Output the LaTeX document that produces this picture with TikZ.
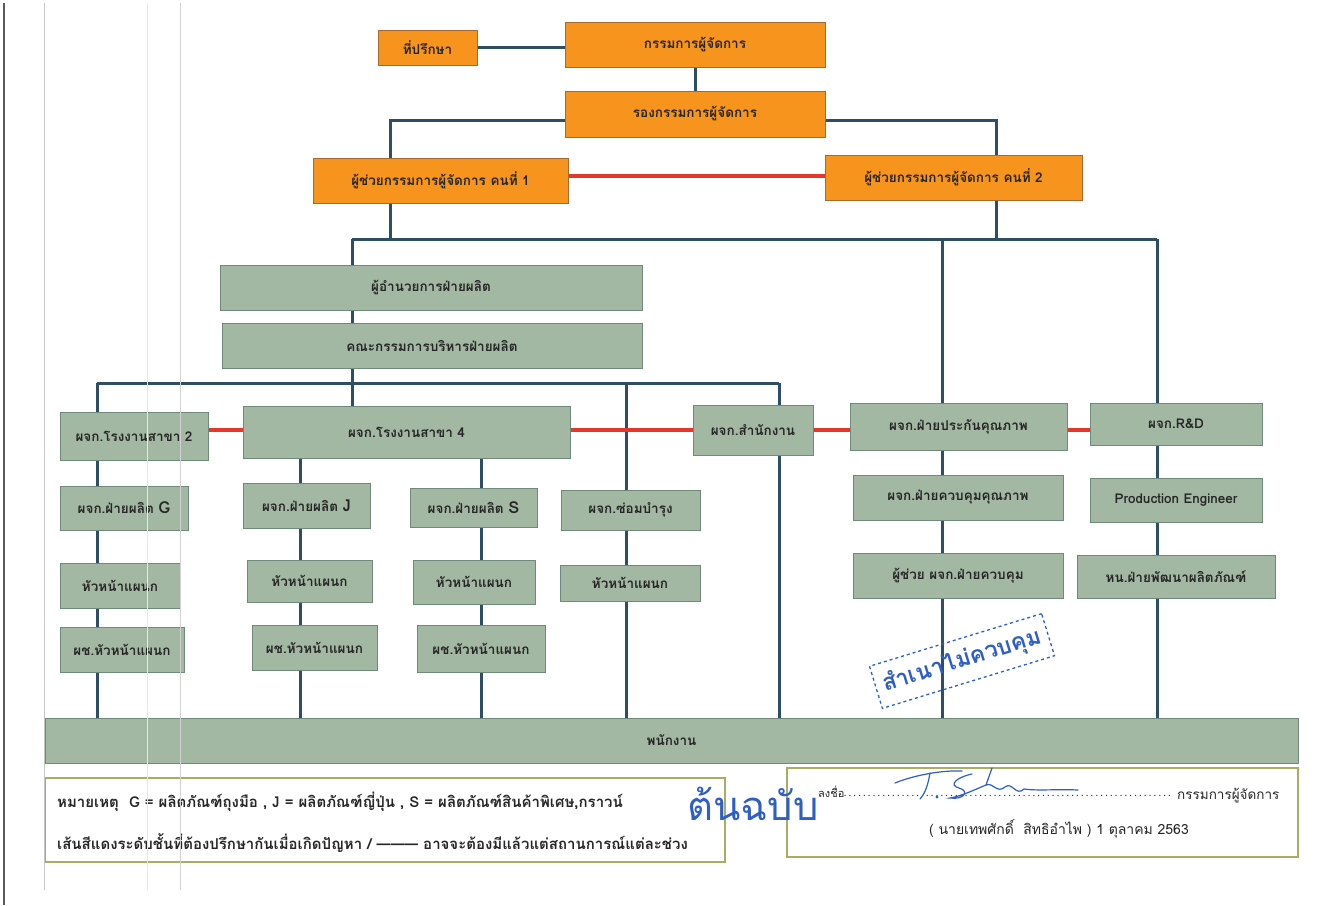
\documentclass[tikz,border=0pt]{standalone}
\usepackage{fontspec}
\setmainfont[Script=Thai]{Loma}
\usetikzlibrary{backgrounds}
\definecolor{org}{HTML}{F7941D}
\definecolor{obd}{HTML}{A86A30}
\definecolor{grn}{HTML}{A3B8A2}
\definecolor{gbd}{HTML}{6F8A7A}
\definecolor{txt}{HTML}{262626}
\definecolor{lnb}{HTML}{2E4E66}
\definecolor{redc}{HTML}{E2392C}
\definecolor{stampc}{HTML}{2F5FC4}
\definecolor{olv}{HTML}{A9AD62}
\newcommand\fs{\fontsize{13.5}{15}\selectfont\bfseries}
\newcommand\bigltr{\fontsize{16.5}{17}\selectfont}
\newcommand\bx[7]{\node[#1, minimum width=#5pt, minimum height=#6pt] (#2) at (#3,#4) {#7};}
\begin{document}
\begin{tikzpicture}[x=1pt,y=-1pt,
  obox/.style={draw=obd, line width=0.8pt, fill=org, text=txt, font=\fs, inner sep=0pt},
  gbox/.style={draw=gbd, line width=0.8pt, fill=grn, text=txt, font=\fs, inner sep=0pt},
  conn/.style={draw=lnb, line width=3pt},
  redl/.style={draw=redc, line width=4pt},
  frame/.style={draw=olv, line width=1.3pt},
  note/.style={text=txt, font=\fontsize{15}{17}\selectfont\bfseries, inner sep=0pt, anchor=west},
  sig/.style={draw=stampc, line width=1.2pt, line cap=round}]
\useasboundingbox (0,0) rectangle (1325,905);
% orange boxes
\bx{obox}{adv}{427.5}{47.5}{99}{35}{ที่ปรึกษา}
\bx{obox}{md}{695}{44.5}{260}{45}{กรรมการผู้จัดการ}
\bx{obox}{vmd}{695}{114}{260}{46}{รองกรรมการผู้จัดการ}
\bx{obox}{as1}{440.5}{180.5}{255}{45}{ผู้ช่วยกรรมการผู้จัดการ คนที่ 1}
\bx{obox}{as2}{953.5}{177.5}{257}{45}{ผู้ช่วยกรรมการผู้จัดการ คนที่ 2}
% green boxes
\bx{gbox}{dir}{431}{287.5}{422}{45}{ผู้อำนวยการฝ่ายผลิต}
\bx{gbox}{com}{432}{345.5}{420}{45}{คณะกรรมการบริหารฝ่ายผลิต}
\bx{gbox}{b2}{134}{436}{148}{48}{ผจก.โรงงานสาขา 2}
\bx{gbox}{b4}{406.5}{432}{327}{52}{ผจก.โรงงานสาขา 4}
\bx{gbox}{off}{753}{430}{120}{50}{ผจก.สำนักงาน}
\bx{gbox}{qa}{958.5}{426.5}{217}{47}{ผจก.ฝ่ายประกันคุณภาพ}
\bx{gbox}{rd}{1176}{424}{172}{42}{ผจก.R\&D}
\bx{gbox}{g1}{124}{508}{128}{44}{ผจก.ฝ่ายผลิต {\bigltr G}}
\bx{gbox}{g2}{120}{585.5}{120}{45}{หัวหน้าแผนก}
\bx{gbox}{g3}{122}{649.5}{124}{45}{ผช.หัวหน้าแผนก}
\bx{gbox}{j1}{306.5}{505.5}{127}{45}{ผจก.ฝ่ายผลิต {\bigltr J}}
\bx{gbox}{j2}{309.5}{581}{125}{42}{หัวหน้าแผนก}
\bx{gbox}{j3}{314.5}{647.5}{125}{45}{ผช.หัวหน้าแผนก}
\bx{gbox}{s1}{473.5}{507.5}{127}{39}{ผจก.ฝ่ายผลิต {\bigltr S}}
\bx{gbox}{s2}{474}{582}{122}{44}{หัวหน้าแผนก}
\bx{gbox}{s3}{481}{648.5}{128}{47}{ผช.หัวหน้าแผนก}
\bx{gbox}{m1}{630.5}{510}{139}{40}{ผจก.ซ่อมบำรุง}
\bx{gbox}{m2}{630}{583}{140}{36}{หัวหน้าแผนก}
\bx{gbox}{q1}{958}{497.5}{210}{45}{ผจก.ฝ่ายควบคุมคุณภาพ}
\bx{gbox}{q2}{958}{575.5}{210}{45}{ผู้ช่วย ผจก.ฝ่ายควบคุม}
\bx{gbox}{r1}{1176}{500}{172}{44}{Production Engineer}
\bx{gbox}{r2}{1176}{576.5}{198}{43}{หน.ฝ่ายพัฒนาผลิตภัณฑ์}
\bx{gbox}{staff}{671.5}{740.5}{1253}{45}{พนักงาน}
% junction coordinates
\coordinate (cL) at (390,120);
\coordinate (cR) at (996,120);
\coordinate (hA) at (352,239);
\coordinate (hB) at (1157,239);
\coordinate (hQ) at (942,239);
\coordinate (hL) at (390,239);
\coordinate (hR) at (996,239);
\coordinate (pA) at (97,383);
\coordinate (pB) at (779,383);
\coordinate (pC) at (352,383);
\coordinate (pM) at (626,383);
\coordinate (ry) at (0,430);
\coordinate (ry2) at (0,176);
\begin{scope}[on background layer]
\fill[white] (0,0) rectangle (1325,905);
\draw[conn] (adv.east) -- (md.west |- adv.east);
\draw[conn] (md.south) -- (vmd.north);
\draw[conn] (vmd.west |- cL) -- (cL) -- (as1.north -| cL);
\draw[conn] (vmd.east |- cR) -- (cR) -- (as2.north -| cR);
\draw[conn] (as1.south -| hL) -- (hL);
\draw[conn] (as2.south -| hR) -- (hR);
\draw[conn] (hA) -- (hB);
\draw[conn] (hA) -- (dir.north -| hA);
\draw[conn] (hQ) -- (qa.north -| hQ);
\draw[conn] (hB) -- (rd.north -| hB);
\draw[conn] (dir.south -| hA) -- (com.north -| hA);
\draw[conn] (com.south -| pC) -- (pC);
\draw[conn] (pA) -- (pB);
\draw[conn] (pA) -- (b2.north -| pA);
\draw[conn] (pC) -- (b4.north -| pC);
\draw[conn] (pM) -- (staff.north -| pM);
\draw[conn] (pB) -- (staff.north -| pB);
\draw[conn] (b2.south -| pA) -- (staff.north -| pA);
\draw[conn] (b4.south -| 300,0) -- (staff.north -| 300,0);
\draw[conn] (b4.south -| 481,0) -- (staff.north -| 481,0);
\draw[conn] (qa.south -| hQ) -- (staff.north -| hQ);
\draw[conn] (rd.south -| hB) -- (staff.north -| hB);
\draw[redl] (as1.east |- ry2) -- (as2.west |- ry2);
\draw[redl] (b2.east |- ry) -- (b4.west |- ry);
\draw[redl] (b4.east |- ry) -- (off.west |- ry);
\draw[redl] (off.east |- ry) -- (qa.west |- ry);
\draw[redl] (qa.east |- ry) -- (rd.west |- ry);
\end{scope}
% legend
\node[frame, minimum width=680pt, minimum height=84pt, inner sep=0pt] (legend) at (385,820) {};
\node[note] (l1) at (57,802) {หมายเหตุ\ \ G = ผลิตภัณฑ์ถุงมือ , J = ผลิตภัณฑ์ญี่ปุ่น , S = ผลิตภัณฑ์สินค้าพิเศษ,กราวน์};
\node[note] (l2) at (57,843) {เส้นสีแดงระดับชั้นที่ต้องปรึกษากันเมื่อเกิดปัญหา / ——— อาจจะต้องมีแล้วแต่สถานการณ์แต่ละช่วง};
% signature box
\node[frame, minimum width=511pt, minimum height=89pt, inner sep=0pt] (sigbox) at (1042.5,812.5) {};
\node[note, font=\fontsize{11}{12}\selectfont] (sg0) at (818,792) {ลงชื่อ};
\node[note, font=\fontsize{11}{12}\selectfont] (sgd) at (842,796) {\makebox[330pt]{\dotfill}};
\node[note, font=\fontsize{13.5}{15}\selectfont] (sg1) at (1177,796) {กรรมการผู้จัดการ};
\node[text=txt, font=\fontsize{14}{16}\selectfont, inner sep=0pt] (sg2) at (1059,829) {( นายเทพศักดิ์\ \ สิทธิอำไพ ) 1 ตุลาคม 2563};
% handwritten signature
\draw[sig] (895,783) .. controls (912,776) and (940,770) .. (962,771);
\draw[sig] (930,773) .. controls (928,784) and (926,792) .. (920,799);
\fill[stampc] (937,797) circle (1.6);
\draw[sig] (972,774) .. controls (957,777) and (948,785) .. (959,788) .. controls (970,791) and (964,800) .. (950,798) .. controls (962,796) and (976,789) .. (986,785) .. controls (993,782) and (997,794) .. (1005,787) .. controls (1012,781) and (1016,797) .. (1024,789) .. controls (1038,791) and (1056,789) .. (1078,790);
\draw[sig] (986,785) -- (992,768);
% stamps
\node[text=stampc, font=\fontsize{40}{42}\selectfont, inner sep=0pt] (orig) at (753,804) {ต้นฉบับ};
\node[draw=stampc, dashed, line width=1.3pt, text=stampc, font=\fontsize{23}{25}\selectfont\bfseries, rotate=17, minimum width=180pt, minimum height=44pt, inner sep=0pt] (copy) at (962,661) {สำเนาไม่ควบคุม};
% scan margin lines
\draw[gray!70!black, line width=1.2pt] (4,3) -- (4,905);
\draw[gray!45, line width=0.8pt] (44,3) -- (44,890);
\draw[yellow!20!gray!25, line width=0.8pt] (147,3) -- (147,890);
\draw[gray!35, line width=0.8pt] (180,3) -- (180,890);
\end{tikzpicture}
\end{document}
